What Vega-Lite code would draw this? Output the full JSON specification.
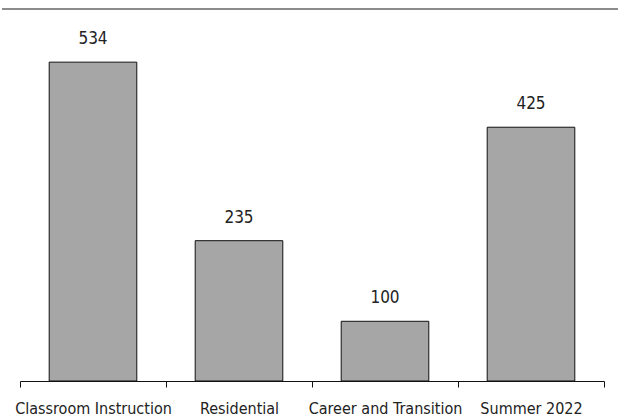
{
  "$schema": "https://vega.github.io/schema/vega-lite/v6.json",
  "width": 584,
  "height": 372,
  "autosize": {"type": "none"},
  "padding": {"left": 20, "top": 9, "right": 14, "bottom": 36},
  "background": "white",
  "config": {
    "view": {"stroke": null},
    "font": "DejaVu Sans Condensed, sans-serif"
  },
  "data": {
    "values": [
      {"category": "Classroom Instruction", "value": 534},
      {"category": "Residential", "value": 235},
      {"category": "Career and Transition", "value": 100},
      {"category": "Summer 2022", "value": 425}
    ]
  },
  "layer": [
    {
      "mark": {"type": "bar", "fill": "#a6a6a6", "stroke": "#111111", "strokeWidth": 1, "width": {"band": 0.6}},
      "encoding": {
        "x": {
          "field": "category",
          "type": "nominal",
          "sort": null,
          "scale": {"paddingInner": 0, "paddingOuter": 0},
          "axis": {
            "title": null,
            "labelAngle": 0,
            "tickBand": "extent",
            "domainColor": "#111111",
            "tickColor": "#111111",
            "tickSize": 6,
            "labelFontSize": 16,
            "labelColor": "#222222",
            "labelBaseline": "alphabetic",
            "labelPadding": 26
          }
        },
        "y": {
          "field": "value",
          "type": "quantitative",
          "scale": {"domain": [0, 623], "nice": false},
          "axis": null
        }
      }
    },
    {
      "mark": {"type": "text", "dy": -18, "fontSize": 17, "color": "#222222", "baseline": "alphabetic"},
      "encoding": {
        "x": {"field": "category", "type": "nominal", "sort": null},
        "y": {"field": "value", "type": "quantitative"},
        "text": {"field": "value", "type": "quantitative"}
      }
    },
    {
      "data": {"values": [{"top": 623}]},
      "mark": {"type": "rule", "color": "#8c8c8c", "strokeWidth": 2},
      "encoding": {
        "y": {"field": "top", "type": "quantitative"},
        "x": {"value": -18},
        "x2": {"value": 598}
      }
    }
  ]
}
